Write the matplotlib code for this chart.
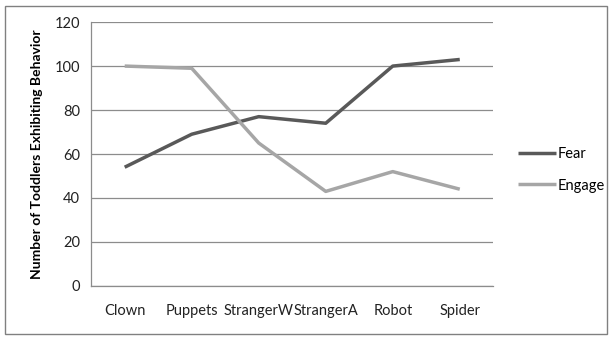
import matplotlib
matplotlib.use("Agg")
import matplotlib.pyplot as plt
from matplotlib.patches import Rectangle

categories = ["Clown", "Puppets", "StrangerW", "StrangerA", "Robot", "Spider"]
fear = [54, 69, 77, 74, 100, 103]
engage = [100, 99, 65, 43, 52, 44]
yticks = [0, 20, 40, 60, 80, 100, 120]

plt.rcParams['font.family'] = ['Lato', 'DejaVu Sans']

fig = plt.figure(figsize=(6.12, 3.4), dpi=100)
ax = fig.add_axes([0.149, 0.159, 0.657, 0.776])

x = range(len(categories))
ax.plot(x, fear, color='#595959', lw=2.5, label='Fear', solid_capstyle='butt')
ax.plot(x, engage, color='#a6a6a6', lw=2.5, label='Engage', solid_capstyle='butt')

ax.set_xlim(-0.5, len(categories) - 0.5)
ax.set_ylim(0, 120)
ax.set_yticks(yticks)
ax.set_xticks(list(x))
ax.set_xticklabels(categories)
ax.yaxis.grid(True, color='#8c8c8c', lw=0.9)
ax.set_axisbelow(True)
for s in ['top', 'right']:
    ax.spines[s].set_visible(False)
for s in ['left', 'bottom']:
    ax.spines[s].set_color('#8c8c8c')
    ax.spines[s].set_linewidth(0.9)
ax.tick_params(length=0, labelsize=10.5, colors='#222222')
ax.tick_params(axis='x', pad=13)
ax.tick_params(axis='y', pad=8)
ax.set_ylabel('Number of Toddlers Exhibiting Behavior', fontsize=10, fontweight='bold', labelpad=8)

leg = ax.legend(loc='center left', bbox_to_anchor=(1.03, 0.44), frameon=False,
                fontsize=10.5, handlelength=2.6, handletextpad=0.1, labelspacing=1.2)

fig.patches.append(Rectangle((5/612, 6/340), 602/612, 328/340, transform=fig.transFigure,
                             fill=False, edgecolor='#808080', lw=1))

fig.savefig('out.png', dpi=100)
